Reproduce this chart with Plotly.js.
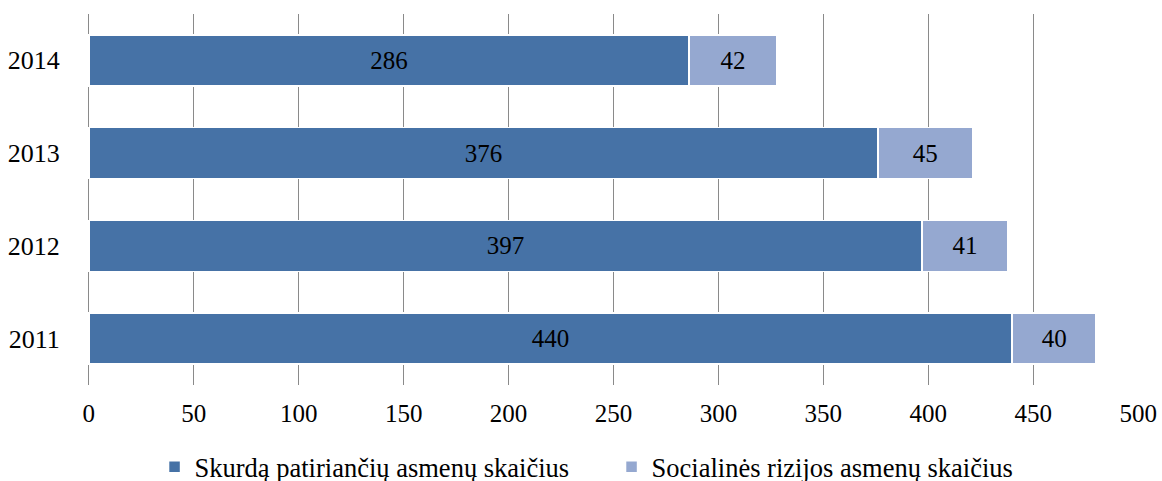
<!DOCTYPE html>
<html>
<head>
<meta charset="utf-8">
<script src="https://cdn.plot.ly/plotly-3.0.1.min.js"></script>
<style>html,body{margin:0;padding:0;background:#fff;}#chart{width:1162px;height:481px;}</style>
</head>
<body>
<div id="chart"></div>
<script>
const years = ['2011', '2012', '2013', '2014'];
const poverty = [440, 397, 376, 286];
const socialRisk = [40, 41, 45, 42];
const seriesNames = ['Skurdą patiriančių asmenų skaičius', 'Socialinės rizijos asmenų skaičius'];
const xTicks = [0, 50, 100, 150, 200, 250, 300, 350, 400, 450, 500];

const serifFamily = 'Liberation Serif';
const barCommon = {
  type: 'bar', orientation: 'h', y: years,
  textposition: 'inside', insidetextanchor: 'middle', constraintext: 'none',
  textfont: {family: serifFamily, size: 25, color: '#000'},
  width: 0.55,
  hoverinfo: 'none'
};
const data = [
  Object.assign({}, barCommon, {
    x: poverty, text: poverty.map(String), name: seriesNames[0],
    marker: {color: '#4672A6', line: {color: '#ffffff', width: 1.5}}
  }),
  Object.assign({}, barCommon, {
    x: socialRisk, text: socialRisk.map(String), name: seriesNames[1],
    marker: {color: '#95A8D0', line: {color: '#ffffff', width: 1.5}}
  })
];
const layout = {
  width: 1162, height: 481,
  margin: {l: 88, r: 23, t: 14, b: 96, autoexpand: false},
  barmode: 'stack',
  paper_bgcolor: '#fff', plot_bgcolor: '#fff',
  font: {family: serifFamily, size: 25, color: '#000'},
  xaxis: {
    range: [-0.4, 500.4], tickvals: xTicks, ticktext: xTicks.map(String),
    showgrid: true, gridcolor: '#8a8a8a', gridwidth: 1.3,
    zeroline: true, zerolinecolor: '#8a8a8a', zerolinewidth: 1.3, showline: false,
    ticks: 'outside', ticklen: 6, tickcolor: 'rgba(0,0,0,0)',
    tickfont: {family: serifFamily, size: 25, color: '#000'}
  },
  yaxis: {
    type: 'category',
    showgrid: false, zeroline: false, showline: false,
    ticks: 'outside', ticklen: 22, tickcolor: 'rgba(0,0,0,0)',
    tickfont: {family: serifFamily, size: 26, color: '#000'}
  },
  showlegend: true,
  legend: {
    orientation: 'h', x: 0.133, xref: 'container', xanchor: 'left',
    y: 0.029, yref: 'container', yanchor: 'middle',
    font: {family: serifFamily, size: 26.5, color: '#000'},
    traceorder: 'normal', itemwidth: 30, entrywidth: 412
  }
};
Plotly.newPlot('chart', data, layout, {displayModeBar: false, staticPlot: true});
</script>
</body>
</html>
